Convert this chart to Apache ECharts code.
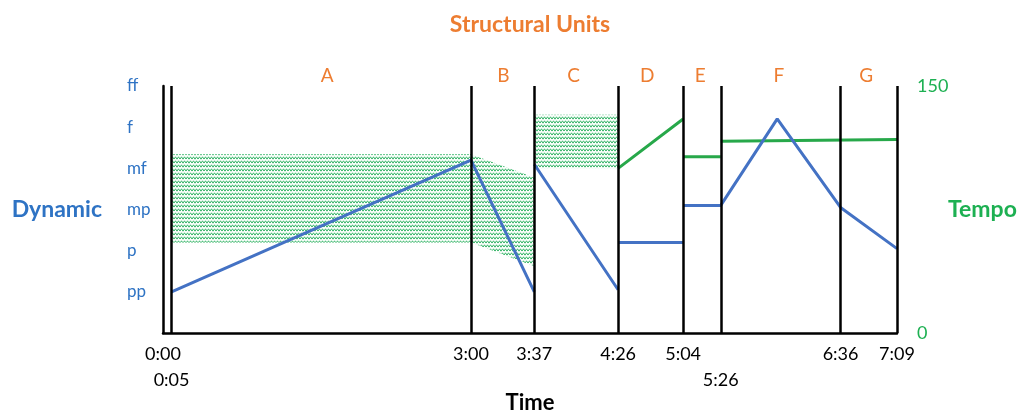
<!DOCTYPE html>
<html>
<head>
<meta charset="utf-8">
<script src="https://cdn.jsdelivr.net/npm/echarts@6/dist/echarts.min.js"></script>
<style>
html,body{margin:0;padding:0;background:#fff;}
#chart{width:1022px;height:416px;}
</style>
</head>
<body>
<div id="chart"></div>
<script>
// ---- data ----
const xTickTimes = [0, 180, 217, 266, 304, 396, 429];
const xTickLabels = ['0:00', '3:00', '3:37', '4:26', '5:04', '6:36', '7:09'];
const xTickTimes2 = [5, 326];
const xTickLabels2 = ['0:05', '5:26'];
const sectionBoundaries = [5, 180, 217, 266, 304, 326, 396, 429];
const sectionNames = ['A', 'B', 'C', 'D', 'E', 'F', 'G'];
const sectionLabelTimes = [96, 199, 240, 283, 314, 360, 411];
const dynLevels = ['pp', 'p', 'mp', 'mf', 'f', 'ff'];

// dynamic line (null = gap)
const dynTimes  = [5,   180, 217, 217,  217, 266,  266,  266, 304, 304,  304, 326, 359, 396,  429];
const dynValues = [1.0, 4.2, 1.0, null, 4.1, 1.05, null, 2.2, 2.2, null, 3.1, 3.1, 5.2, 3.05, 2.05];

// tempo line (null = gap)
const tempoTimes  = [266, 304, 304,  304, 326, 326,  326,   429];
const tempoValues = [100, 130, null, 107, 107, null, 116.5, 117.5];

// tempo ranges (hatched bands)
const bandStart     = [5,     180,   217];
const bandEnd       = [180,   217,   266];
const bandLowStart  = [55,    55,    100];
const bandHighStart = [108.5, 108.5, 132.5];
const bandLowEnd    = [55,    40.5,  100];
const bandHighEnd   = [108.5, 94.5,  132.5];

// ---- pattern ----
function makePattern() {
  const c = document.createElement('canvas');
  c.width = 6; c.height = 4;
  const g = c.getContext('2d');
  g.strokeStyle = '#35b566';
  g.lineWidth = 1;
  g.beginPath();
  g.moveTo(0, 3.2); g.lineTo(1.5, 0.8); g.lineTo(3, 3.2); g.lineTo(4.5, 0.8); g.lineTo(6, 3.2);
  g.stroke();
  return { image: c, repeat: 'repeat' };
}
const hatch = makePattern();

const FONT = 'Lato';
const BLUE_TXT = '#2e73c4';
const GREEN_TXT = '#1db052';
const ORANGE = '#ed7d31';

const chart = echarts.init(document.getElementById('chart'));
chart.setOption({
  animation: false,
  textStyle: { fontFamily: FONT },
  grid: { left: 163, right: 125, top: 86, bottom: 83, outerBoundsMode: 'none', containLabel: false },
  graphic: [{
    type: 'text', x: 530, y: 25,
    style: { text: 'Structural Units', fill: ORANGE, font: 'bold 23px ' + FONT, textAlign: 'center', textVerticalAlign: 'middle' }
  }],
  xAxis: [{
    type: 'value', min: 0, max: 429, position: 'bottom',
    axisLine: { show: true, lineStyle: { color: '#000', width: 2.5 } },
    axisTick: { show: false },
    splitLine: { show: false },
    axisLabel: {
      customValues: xTickTimes, showMinLabel: true, showMaxLabel: true, hideOverlap: false,
      margin: 12, fontSize: 18, color: '#000', fontFamily: FONT,
      formatter: v => xTickLabels[xTickTimes.indexOf(v)] || ''
    },
    name: 'Time', nameLocation: 'middle', nameGap: 59, nameMoveOverlap: false,
    nameTextStyle: { fontSize: 22, fontWeight: 'bold', color: '#000', fontFamily: FONT }
  }, {
    type: 'value', min: 0, max: 429, position: 'top',
    axisLine: { show: false }, axisTick: { show: false }, splitLine: { show: false },
    axisLabel: {
      customValues: sectionLabelTimes, margin: 1, fontSize: 19, color: ORANGE, fontFamily: FONT,
      formatter: v => sectionNames[sectionLabelTimes.indexOf(v)] || ''
    }
  }, {
    type: 'value', min: 0, max: 429, position: 'bottom', offset: 26,
    axisLine: { show: false }, axisTick: { show: false }, splitLine: { show: false },
    axisLabel: {
      customValues: xTickTimes2, showMinLabel: true, showMaxLabel: true, hideOverlap: false,
      margin: 12, fontSize: 18, color: '#000', fontFamily: FONT,
      formatter: v => xTickLabels2[xTickTimes2.indexOf(v)] || ''
    }
  }],
  yAxis: [{
    type: 'value', min: 0, max: 6, interval: 1, position: 'left',
    axisLine: { show: true, lineStyle: { color: '#000', width: 2.5 } },
    axisTick: { show: false }, splitLine: { show: false },
    axisLabel: {
      align: 'left', margin: 36, fontSize: 17, color: BLUE_TXT, fontFamily: FONT,
      formatter: v => (v >= 1 ? dynLevels[v - 1] : '')
    },
    name: 'Dynamic', nameLocation: 'middle', nameRotate: 0, nameGap: 61, nameMoveOverlap: false,
    nameTextStyle: { fontSize: 23, fontWeight: 'bold', color: BLUE_TXT, fontFamily: FONT }
  }, {
    type: 'value', min: 0, max: 150, interval: 150, position: 'right',
    axisLine: { show: false }, axisTick: { show: false }, splitLine: { show: false },
    axisLabel: { margin: 20, fontSize: 18, color: GREEN_TXT, fontFamily: FONT },
    name: 'Tempo', nameLocation: 'middle', nameRotate: 0, nameGap: 51, nameMoveOverlap: false,
    nameTextStyle: { fontSize: 23, fontWeight: 'bold', color: GREEN_TXT, fontFamily: FONT }
  }],
  series: [{
    type: 'custom', name: 'Tempo range', xAxisIndex: 0, yAxisIndex: 1, z: 1,
    data: bandStart.map((s, i) => [s, bandEnd[i], bandLowStart[i], bandHighStart[i], bandLowEnd[i], bandHighEnd[i]]),
    encode: { x: [0, 1], y: [2, 3, 4, 5] },
    renderItem: (params, api) => {
      const t0 = api.value(0), t1 = api.value(1);
      const pts = [
        api.coord([t0, api.value(3)]), api.coord([t1, api.value(5)]),
        api.coord([t1, api.value(4)]), api.coord([t0, api.value(2)])
      ];
      return { type: 'polygon', shape: { points: pts }, style: { fill: hatch } };
    }
  }, {
    type: 'line', name: 'Tempo', xAxisIndex: 0, yAxisIndex: 1, z: 3,
    data: tempoTimes.map((t, i) => [t, tempoValues[i]]),
    showSymbol: false, connectNulls: false,
    lineStyle: { color: '#27a84a', width: 3 }
  }, {
    type: 'line', name: 'Dynamic', xAxisIndex: 0, yAxisIndex: 0, z: 4,
    data: dynTimes.map((t, i) => [t, dynValues[i]]),
    showSymbol: false, connectNulls: false,
    lineStyle: { color: '#4472c4', width: 3 },
    markLine: {
      silent: true, symbol: 'none', label: { show: false },
      lineStyle: { color: '#000', width: 2.5, type: 'solid' },
      data: sectionBoundaries.map(t => ({ xAxis: t }))
    }
  }]
});
</script>
</body>
</html>
